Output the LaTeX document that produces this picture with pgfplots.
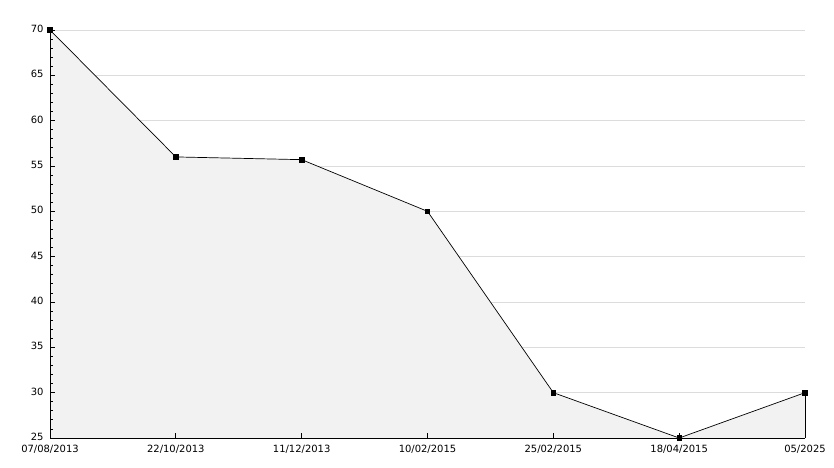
\documentclass[border=0pt]{standalone}
\usepackage{pgfplots}
\pgfplotsset{compat=1.18}
\usepackage{fontspec}
\setmainfont{DejaVu Sans}
\definecolor{fillg}{HTML}{F2F2F2}
\definecolor{gridg}{HTML}{DCDCDC}
\begin{document}
\begin{tikzpicture}
\begin{axis}[
  set layers,
  scale only axis,
  width=755bp, height=408bp,
  xmin=0, xmax=6, ymin=25, ymax=70,
  axis lines*=left,
  axis on top,
  axis line style={black, line width=1pt, -},
  xtick={0,...,6},
  xticklabels={07/08/2013,22/10/2013,11/12/2013,10/02/2015,25/02/2015,18/04/2015,05/2025},
  ytick={25,30,...,70},
  minor y tick num=4,
  ymajorgrids,
  major grid style={gridg, line width=0.8pt, /pgfplots/on layer=axis background},
  tick style={black, line width=0.8pt},
  tick align=inside,
  major tick length=5bp,
  minor tick length=3bp,
  tick label style={font=\fontsize{10}{12}\selectfont},
  /pgf/number format/assume math mode=true,
  xticklabel style={yshift=-4bp},
  yticklabel style={yshift=1bp, xshift=-3bp},
  clip=false,
]
\addplot[fill=fillg, draw=none] coordinates {(0,25) (0,70) (1,56) (2,55.7) (3,50) (4,30) (5,25) (6,30) (6,25)} \closedcycle;
\addplot[black, line width=0.7pt, mark=square*, mark size=2.2bp] coordinates {(0,70) (1,56) (2,55.7) (3,50) (4,30) (5,25) (6,30)};
\addplot[black, line width=0.7pt] coordinates {(6,30) (6,25)};
\end{axis}
\pgfresetboundingbox
\path (current axis.south west) ++(-50bp,-30bp) rectangle ([xshift=29bp,yshift=30bp]current axis.north east);
\end{tikzpicture}
\end{document}
